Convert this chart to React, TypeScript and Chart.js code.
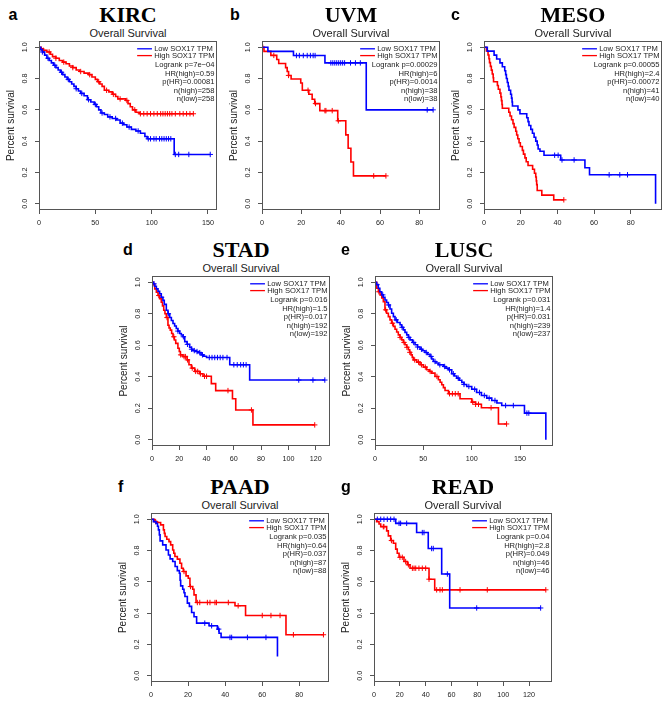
import React, { useEffect, useRef } from "react";
import { Chart, registerables } from "chart.js";

Chart.register(...registerables);

type Pt = [number, number];

const SERIES_LABELS = ["Low SOX17 TPM", "High SOX17 TPM"];
const Y_TICKS = [0, 0.2, 0.4, 0.6, 0.8, 1.0];
const SUBTITLE = "Overall Survival";
const Y_TITLE = "Percent survival";

// ---------- a: KIRC ----------
const KIRC_LOW: Pt[] = [[0,1],[1.5,0.985],[3,0.97],[5,0.95],[7,0.93],[9,0.915],[11,0.9],[13,0.885],[15,0.87],[17,0.855],[19,0.84],[21,0.825],[23,0.81],[25,0.795],[27,0.78],[29,0.765],[31,0.75],[33,0.735],[35,0.72],[37,0.705],[40,0.69],[43,0.665],[46,0.65],[49,0.635],[51,0.62],[53,0.6],[55,0.58],[58,0.57],[61,0.555],[65,0.545],[69,0.535],[72,0.515],[75,0.505],[78,0.49],[82,0.475],[86,0.465],[90,0.45],[94,0.43],[96,0.415],[120,0.315],[152,0.315]];
const KIRC_HIGH: Pt[] = [[0,1],[2,0.99],[4,0.98],[7,0.97],[10,0.955],[12,0.94],[15,0.93],[18,0.915],[21,0.905],[24,0.895],[27,0.88],[30,0.87],[33,0.855],[36,0.845],[40,0.835],[44,0.825],[47,0.81],[50,0.795],[52,0.78],[54,0.765],[56,0.75],[58,0.725],[62,0.715],[65,0.7],[68,0.685],[70,0.67],[77,0.66],[79,0.64],[81,0.62],[83,0.6],[86,0.585],[89,0.575],[137,0.575]];
const KIRC_LOW_CENSOR = [3,8,14,20,26,33,38,44,50,56,63,68,74,80,88,97,99,102,104,107,109,111,113,115,117,121,124,133,152];
const KIRC_HIGH_CENSOR = [4,9,15,22,30,37,45,53,60,66,72,78,85,90,93,96,99,102,105,108,110,112,114,116,118,121,125,128,131,134,137];
const KIRC_STATS = ["Logrank p=7e\u221204", "HR(high)=0.59", "p(HR)=0.00081", "n(high)=258", "n(low)=258"];
const KIRC_X_TICKS = [0, 50, 100, 150];

// ---------- b: UVM ----------
const UVM_LOW: Pt[] = [[0,1],[3,0.974],[16,0.947],[32,0.9],[53,0.6],[87,0.6]];
const UVM_HIGH: Pt[] = [[0,1],[1,0.974],[4.5,0.948],[7.5,0.922],[8.5,0.896],[12,0.87],[12.8,0.845],[13.5,0.82],[14.8,0.797],[19.7,0.772],[20.5,0.725],[23.8,0.7],[25.5,0.668],[26.8,0.64],[29.4,0.595],[38.5,0.53],[42.6,0.44],[43.8,0.355],[45.2,0.267],[46.5,0.178],[63,0.178]];
const UVM_LOW_CENSOR = [17.5,19,21,23,24.6,26,27,35,36,37,38,39,40,41,42,45,47.5,50,84,87];
const UVM_HIGH_CENSOR = [0.4,6,13.5,23.4,27.2,32,32.5,35.7,38.8,56.8,63];
const UVM_STATS = ["Logrank p=0.00029", "HR(high)=6", "p(HR)=0.0014", "n(high)=38", "n(low)=38"];
const UVM_X_TICKS = [0, 20, 40, 60, 80];

// ---------- c: MESO ----------
const MESO_LOW: Pt[] = [[0,1],[1.8,0.975],[5.5,0.95],[6.9,0.925],[8.7,0.9],[10,0.875],[11.3,0.85],[11.8,0.825],[12.2,0.8],[12.7,0.775],[13.2,0.75],[13.6,0.725],[14.5,0.7],[15,0.675],[15.3,0.65],[15.5,0.625],[18.5,0.6],[19.6,0.575],[23.3,0.55],[24,0.525],[24.5,0.5],[25.5,0.475],[26.4,0.45],[27.3,0.425],[28.2,0.4],[29,0.375],[29.5,0.35],[30.5,0.335],[32.7,0.31],[41.8,0.28],[55,0.23],[57.5,0.185],[93.5,0]];
const MESO_HIGH: Pt[] = [[0,1],[1.3,0.976],[2.2,0.951],[2.7,0.927],[3,0.902],[3.5,0.878],[4,0.854],[4.5,0.829],[5,0.805],[5.2,0.78],[7.3,0.756],[7.8,0.732],[8.7,0.707],[9.2,0.683],[9.5,0.659],[9.8,0.634],[10,0.61],[13.5,0.585],[14.2,0.561],[15,0.537],[15.8,0.512],[16.4,0.488],[17.3,0.463],[17.8,0.439],[18.4,0.415],[19.1,0.39],[19.8,0.366],[20.9,0.341],[21.5,0.317],[22.3,0.293],[23,0.268],[24,0.244],[26.5,0.22],[27.5,0.195],[28.2,0.171],[28.5,0.146],[28.7,0.122],[29,0.085],[31.5,0.055],[38,0.025],[43.5,0.025]];
const MESO_LOW_CENSOR = [38.5,40.4,42.5,49.1,68.2,74,78.2];
const MESO_HIGH_CENSOR = [43.5];
const MESO_STATS = ["Logrank p=0.00055", "HR(high)=2.4", "p(HR)=0.00072", "n(high)=41", "n(low)=40"];
const MESO_X_TICKS = [0, 20, 40, 60, 80];

// ---------- d: STAD ----------
const STAD_LOW: Pt[] = [[0,1],[1,0.99],[2,0.975],[3.2,0.958],[4.4,0.943],[5.6,0.927],[6.8,0.905],[8,0.885],[9,0.86],[10.5,0.822],[11.7,0.8],[13,0.776],[14.2,0.757],[15.4,0.738],[16.6,0.722],[17.8,0.706],[19,0.69],[20.3,0.675],[21.5,0.665],[22.7,0.654],[24,0.623],[25.7,0.606],[27.6,0.587],[29,0.575],[30,0.566],[32,0.56],[33.7,0.553],[36,0.539],[38,0.53],[40,0.522],[57,0.476],[71.6,0.379],[126.7,0.379]];
const STAD_HIGH: Pt[] = [[0,1],[1,0.985],[2,0.958],[3.2,0.937],[4.4,0.916],[5.6,0.895],[6.8,0.874],[7.7,0.85],[8.6,0.822],[9.5,0.8],[10.5,0.776],[11.7,0.727],[12.5,0.71],[13.4,0.696],[14.4,0.675],[15.4,0.654],[16.4,0.633],[17.4,0.612],[19,0.581],[20,0.56],[20.8,0.539],[22.7,0.528],[25.7,0.507],[27.1,0.476],[28.9,0.455],[31.3,0.434],[35,0.419],[37.4,0.403],[43.5,0.356],[46.7,0.312],[59,0.26],[61.4,0.189],[74,0.094],[119.3,0.094]];
const STAD_LOW_CENSOR = [1.5,7,12,19,23,26,29,31,33,35,37,42,44,46,48,50,52,55,60,62.5,65,67,69,107.6,118,126.7];
const STAD_HIGH_CENSOR = [5,11,16,21,23.5,24.5,26,29.5,32,33.5,35.5,38.5,40,55.7,72.9,119.3];
const STAD_STATS = ["Logrank p=0.016", "HR(high)=1.5", "p(HR)=0.017", "n(high)=192", "n(low)=192"];
const STAD_X_TICKS = [0, 20, 40, 60, 80, 100, 120];

// ---------- e: LUSC ----------
const LUSC_LOW: Pt[] = [[0,1],[1.5,0.985],[3.4,0.962],[5,0.94],[6.9,0.92],[8.5,0.905],[10.3,0.888],[12,0.872],[13.8,0.856],[15.5,0.83],[17.2,0.803],[19,0.782],[20.7,0.761],[23,0.745],[25.9,0.73],[27.5,0.714],[29.3,0.698],[31,0.682],[32.8,0.666],[34.5,0.65],[36.2,0.634],[38.8,0.618],[41.4,0.603],[44,0.589],[46.6,0.575],[49,0.565],[51.7,0.554],[54.3,0.542],[56.9,0.529],[58.6,0.513],[60.3,0.497],[63,0.487],[65.5,0.476],[70.7,0.465],[73.3,0.455],[75.9,0.444],[79.3,0.419],[82,0.405],[84.5,0.391],[87,0.378],[89.7,0.364],[92,0.351],[94.8,0.338],[100,0.321],[105,0.3],[110,0.281],[115.5,0.264],[120.7,0.249],[126,0.233],[131,0.217],[154.5,0.169],[176.6,0]];
const LUSC_HIGH: Pt[] = [[0,1],[1.7,0.962],[3.5,0.94],[5.2,0.92],[7,0.9],[8.6,0.877],[10.3,0.825],[12,0.803],[13.8,0.782],[15.5,0.761],[17.2,0.74],[19,0.72],[20.7,0.702],[22.4,0.684],[24.1,0.666],[25.8,0.65],[27.6,0.634],[29.3,0.618],[31,0.603],[32.8,0.587],[34.5,0.571],[35.8,0.555],[37.2,0.539],[38.5,0.523],[39.7,0.507],[43.1,0.493],[46.6,0.476],[50,0.461],[53.4,0.444],[56,0.434],[58.6,0.423],[62,0.402],[65.5,0.381],[67.3,0.365],[69,0.349],[70.7,0.331],[72.4,0.313],[75.9,0.292],[87.9,0.26],[100,0.239],[104,0.225],[110,0.203],[127.6,0.1],[136,0.1]];
const LUSC_LOW_CENSOR = [2,8,14,22,28,35,40,44,48,53,58,62,67,72,77,81,86,92,97,103,108,113,118,124,135,143,157,159];
const LUSC_HIGH_CENSOR = [4,11,18,26,30,33,36,41,45,48,52,57,64,77,80,83,86,101,104,107,120,136];
const LUSC_STATS = ["Logrank p=0.031", "HR(high)=1.4", "p(HR)=0.031", "n(high)=239", "n(low)=237"];
const LUSC_X_TICKS = [0, 50, 100, 150];

// ---------- f: PAAD ----------
const PAAD_LOW: Pt[] = [[0,1],[1.3,0.985],[2.7,0.974],[3.5,0.955],[4,0.932],[4.5,0.9],[4.9,0.862],[6.3,0.836],[8.1,0.804],[9.4,0.772],[10.3,0.747],[11.7,0.73],[13,0.698],[14.2,0.672],[15.3,0.655],[15.7,0.61],[16,0.574],[17.1,0.553],[17.8,0.53],[18.3,0.506],[19.6,0.464],[20.7,0.443],[21.9,0.404],[23.2,0.377],[24.6,0.336],[31.3,0.319],[35.8,0.298],[36.7,0.272],[37.8,0.245],[68.2,0.123]];
const PAAD_HIGH: Pt[] = [[0,1],[1.8,0.985],[3.1,0.979],[5.2,0.964],[6.7,0.932],[7.2,0.91],[7.6,0.89],[8.5,0.872],[9.7,0.857],[10.6,0.836],[11.7,0.804],[12.3,0.783],[12.9,0.762],[14.2,0.745],[15.6,0.719],[16.5,0.687],[17.4,0.666],[18.9,0.638],[20.1,0.623],[21,0.57],[22.5,0.553],[23.2,0.517],[24.3,0.468],[45.3,0.447],[51,0.385],[72.8,0.262],[93,0.262]];
const PAAD_LOW_CENSOR = [29,32.7,36.5,42.6,43.5,52,62];
const PAAD_HIGH_CENSOR = [2.5,17.8,21.3,25,26.3,30.4,31.8,34.5,35.3,41.7,47,60,64.7,69.6,76.8,93];
const PAAD_STATS = ["Logrank p=0.035", "HR(high)=0.64", "p(HR)=0.037", "n(high)=87", "n(low)=88"];
const PAAD_X_TICKS = [0, 20, 40, 60, 80];

// ---------- g: READ ----------
const READ_LOW: Pt[] = [[0,1],[16.8,0.974],[33,0.915],[42,0.813],[52.4,0.65],[58.6,0.433],[129,0.433]];
const READ_HIGH: Pt[] = [[0,1],[2,0.985],[3.9,0.97],[5.2,0.953],[9.8,0.926],[11.1,0.894],[12.9,0.864],[15,0.847],[16.8,0.809],[18,0.783],[19.4,0.757],[23.2,0.73],[25.8,0.709],[27.9,0.687],[42.6,0.617],[47,0.549],[133,0.549]];
const READ_LOW_CENSOR = [2.6,5.2,7.7,10.3,12.9,15.5,19.4,20.6,25.3,37.4,38.7,44.6,45.9,56.8,79.5,129];
const READ_HIGH_CENSOR = [7.2,7.7,13.5,20.1,21.9,24.5,26.6,29.7,31,32.3,34.8,37.4,40,42.6,48.5,51.1,52.9,66.6,87.7,133];
const READ_STATS = ["Logrank p=0.04", "HR(high)=2.8", "p(HR)=0.049", "n(high)=46", "n(low)=46"];
const READ_X_TICKS = [0, 20, 40, 60, 80, 100, 120];

// ---------- layout & styles ----------
const SANS = '"Liberation Sans", Arial, Helvetica, sans-serif';
const SERIF = '"Liberation Serif", "Times New Roman", serif';
const BLUE = "#0000FF";
const RED = "#FF0000";
const AXIS_COLOR = "#555555";
const TEXT_COLOR = "#222222";
const BOX_W = 178;
const PAD_L = 38;
const PAD_T = 12;
const PAD_R = 8;
const PAD_B = 24;

Chart.defaults.font.family = SANS;

interface PanelSpec {
  letter: string;
  name: string;
  low: Pt[];
  high: Pt[];
  lowCensor: number[];
  highCensor: number[];
  stats: string[];
  xTicks: number[];
  xMax: number;
  left: number;
  top: number;
  height: number;
  letterX: number;
}

const PANELS: PanelSpec[] = [
  { letter: "a", name: "KIRC", low: KIRC_LOW, high: KIRC_HIGH, lowCensor: KIRC_LOW_CENSOR, highCensor: KIRC_HIGH_CENSOR, stats: KIRC_STATS, xTicks: KIRC_X_TICKS, xMax: 158, left: 39, top: 41, height: 169, letterX: 8.5 },
  { letter: "b", name: "UVM", low: UVM_LOW, high: UVM_HIGH, lowCensor: UVM_LOW_CENSOR, highCensor: UVM_HIGH_CENSOR, stats: UVM_STATS, xTicks: UVM_X_TICKS, xMax: 90.5, left: 262, top: 41, height: 169, letterX: 230 },
  { letter: "c", name: "MESO", low: MESO_LOW, high: MESO_HIGH, lowCensor: MESO_LOW_CENSOR, highCensor: MESO_HIGH_CENSOR, stats: MESO_STATS, xTicks: MESO_X_TICKS, xMax: 97, left: 484, top: 41, height: 169, letterX: 451 },
  { letter: "d", name: "STAD", low: STAD_LOW, high: STAD_HIGH, lowCensor: STAD_LOW_CENSOR, highCensor: STAD_HIGH_CENSOR, stats: STAD_STATS, xTicks: STAD_X_TICKS, xMax: 130.5, left: 152, top: 276, height: 170, letterX: 123 },
  { letter: "e", name: "LUSC", low: LUSC_LOW, high: LUSC_HIGH, lowCensor: LUSC_LOW_CENSOR, highCensor: LUSC_HIGH_CENSOR, stats: LUSC_STATS, xTicks: LUSC_X_TICKS, xMax: 184, left: 375, top: 276, height: 170, letterX: 341 },
  { letter: "f", name: "PAAD", low: PAAD_LOW, high: PAAD_HIGH, lowCensor: PAAD_LOW_CENSOR, highCensor: PAAD_HIGH_CENSOR, stats: PAAD_STATS, xTicks: PAAD_X_TICKS, xMax: 96, left: 151, top: 513, height: 169, letterX: 118 },
  { letter: "g", name: "READ", low: READ_LOW, high: READ_HIGH, lowCensor: READ_LOW_CENSOR, highCensor: READ_HIGH_CENSOR, stats: READ_STATS, xTicks: READ_X_TICKS, xMax: 137.8, left: 374, top: 513, height: 169, letterX: 341 },
];

function kmAt(curve: Pt[], t: number): number {
  let v = curve[0][1];
  for (const [x, y] of curve) {
    if (x <= t) v = y;
    else break;
  }
  return v;
}

function lineDataset(label: string, curve: Pt[], color: string) {
  return {
    label,
    data: curve.map(([x, y]) => ({ x, y })),
    borderColor: color,
    backgroundColor: color,
    borderWidth: 1.6,
    stepped: true,
    tension: 0,
    fill: false,
    pointRadius: 0,
    pointHoverRadius: 0,
  };
}

function censorDataset(label: string, curve: Pt[], times: number[], color: string) {
  return {
    label,
    data: times.map((t) => ({ x: t, y: kmAt(curve, t) })),
    showLine: false,
    borderColor: color,
    backgroundColor: color,
    pointStyle: "cross",
    pointRadius: 2.7,
    pointHoverRadius: 0,
    pointBorderColor: color,
    pointBorderWidth: 1,
  };
}

function KMChart({ p }: { p: PanelSpec }) {
  const ref = useRef<HTMLCanvasElement | null>(null);
  const cw = BOX_W + PAD_L + PAD_R;
  const ch = p.height + PAD_T + PAD_B;

  useEffect(() => {
    const canvas = ref.current;
    if (!canvas) return;
    const framePlugin = {
      id: "kmFrame",
      afterDatasetsDraw(chart: any) {
        const { ctx, chartArea: a } = chart;
        ctx.save();
        ctx.strokeStyle = AXIS_COLOR;
        ctx.lineWidth = 1;
        ctx.strokeRect(Math.round(a.left) + 0.5, Math.round(a.top) + 0.5, Math.round(a.right - a.left) - 1, Math.round(a.bottom - a.top) - 1);

        ctx.font = `7.6px ${SANS}`;
        ctx.textBaseline = "middle";
        const right = a.right - 2.5;
        const ds = chart.data.datasets.slice(0, 2);
        const maxW = Math.max(...ds.map((d: any) => ctx.measureText(d.label).width));
        const tx = right - maxW;
        ds.forEach((d: any, i: number) => {
          const y = a.top + 7.8 + i * 6.8;
          ctx.strokeStyle = d.borderColor;
          ctx.lineWidth = 1.3;
          ctx.beginPath();
          ctx.moveTo(tx - 17, y);
          ctx.lineTo(tx - 2.2, y);
          ctx.stroke();
          ctx.fillStyle = TEXT_COLOR;
          ctx.textAlign = "left";
          ctx.fillText(d.label, tx, y);
        });
        ctx.textAlign = "right";
        ctx.fillStyle = TEXT_COLOR;
        p.stats.forEach((s, i) => ctx.fillText(s, right, a.top + 24.2 + i * 8.5));
        ctx.restore();
      },
    };

    const chart = new Chart(canvas, {
      type: "line",
      data: {
        datasets: [
          lineDataset(SERIES_LABELS[0], p.low, BLUE),
          lineDataset(SERIES_LABELS[1], p.high, RED),
          censorDataset(SERIES_LABELS[0] + " censored", p.low, p.lowCensor, BLUE),
          censorDataset(SERIES_LABELS[1] + " censored", p.high, p.highCensor, RED),
        ] as any,
      },
      options: {
        responsive: false,
        maintainAspectRatio: false,
        animation: false,
        events: [],
        layout: { padding: { left: 0, top: PAD_T, right: PAD_R, bottom: 0 } },
        plugins: {
          legend: { display: false },
          tooltip: { enabled: false },
          title: { display: false },
        },
        scales: {
          x: {
            type: "linear",
            min: 0,
            max: p.xMax,
            afterBuildTicks: (ax: any) => {
              ax.ticks = p.xTicks.map((v) => ({ value: v }));
            },
            afterFit: (ax: any) => {
              ax.height = PAD_B;
            },
            grid: { drawOnChartArea: false, drawTicks: true, tickLength: 4, tickColor: AXIS_COLOR, lineWidth: 1 },
            border: { display: false },
            ticks: {
              autoSkip: false,
              maxRotation: 0,
              minRotation: 0,
              padding: 5,
              color: TEXT_COLOR,
              font: { family: SANS, size: 7.2 },
              callback: (v: any) => String(v),
            },
          },
          y: {
            type: "linear",
            min: -0.04,
            max: 1.04,
            afterBuildTicks: (ax: any) => {
              ax.ticks = Y_TICKS.map((v) => ({ value: v }));
            },
            afterFit: (ax: any) => {
              ax.width = PAD_L;
            },
            grid: { drawOnChartArea: false, drawTicks: true, tickLength: 4, tickColor: AXIS_COLOR, lineWidth: 1 },
            border: { display: false },
            ticks: {
              autoSkip: false,
              minRotation: 90,
              maxRotation: 90,
              crossAlign: "center",
              padding: 5,
              color: TEXT_COLOR,
              font: { family: SANS, size: 7.2 },
              callback: (v: any) => Number(v).toFixed(1),
            },
            title: {
              display: true,
              text: Y_TITLE,
              color: TEXT_COLOR,
              font: { family: SANS, size: 10 },
              padding: { top: 4.5, bottom: 0 },
            },
          },
        },
      } as any,
      plugins: [framePlugin],
    });
    return () => chart.destroy();
  }, [p]);

  return (
    <canvas
      ref={ref}
      width={cw}
      height={ch}
      style={{ position: "absolute", left: p.left - PAD_L, top: p.top - PAD_T, width: cw, height: ch }}
    />
  );
}

function BaselineText(props: { x: number; baseline: number; size: number; family: string; bold?: boolean; center?: boolean; text: string }) {
  const ratio = props.family === SERIF ? 0.8375 : 0.8465;
  const top = props.baseline - ratio * props.size;
  const style: React.CSSProperties = {
    position: "absolute",
    top,
    fontFamily: props.family,
    fontSize: props.size,
    lineHeight: `${props.size}px`,
    fontWeight: props.bold ? "bold" : "normal",
    color: props.bold ? "#000" : TEXT_COLOR,
    whiteSpace: "nowrap",
  };
  if (props.center) {
    style.left = props.x - 150;
    style.width = 300;
    style.textAlign = "center";
  } else {
    style.left = props.x;
  }
  return <div style={style}>{props.text}</div>;
}

function Panel({ p }: { p: PanelSpec }) {
  const cx = p.left + BOX_W / 2;
  return (
    <>
      <BaselineText x={p.letterX} baseline={p.top - 20.3} size={16} family={SANS} bold text={p.letter} />
      <BaselineText x={cx} baseline={p.top - 18.5} size={22} family={SERIF} bold center text={p.name} />
      <BaselineText x={cx} baseline={p.top - 3.5} size={11} family={SANS} center text={SUBTITLE} />
      <KMChart p={p} />
    </>
  );
}

export default function App() {
  return (
    <div style={{ position: "absolute", left: 0, top: 0, width: 669, height: 713, overflow: "hidden", background: "#fff" }}>
      {PANELS.map((p) => (
        <Panel key={p.letter} p={p} />
      ))}
    </div>
  );
}
